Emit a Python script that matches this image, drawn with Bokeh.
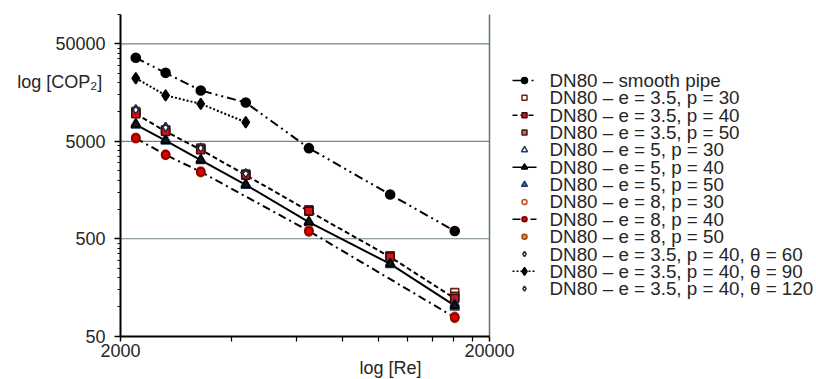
import math
from bokeh.plotting import figure
from bokeh.models import Range1d, FixedTicker, Label, PrintfTickFormatter
from bokeh.embed import file_html
from bokeh.resources import INLINE

# ---------------- data ----------------
re_all = [2200, 2650, 3300, 4370, 6480, 10760, 16100]
re_e8 = [2200, 2650, 3300, 6480, 16100]
re_theta = [2200, 2650, 3300, 4370]

cop_smooth = [36000, 25200, 16600, 12500, 4250, 1420, 600]
cop_e35_p30 = [10100, 6550, 4250, 2300, 990, 335, 140]
cop_e35_p40 = [9600, 6300, 4100, 2250, 960, 325, 122]
cop_e35_p50 = [9850, 6450, 4180, 2280, 975, 330, 128]
cop_e5_p30 = [7600, 5200, 3250, 1820, 750, 282, 108]
cop_e5_p40 = [7430, 5090, 3210, 1790, 740, 276, 103]
cop_e5_p50 = [7300, 5000, 3150, 1760, 730, 270, 99]
cop_e8_p30 = [5500, 3700, 2480, 615, 80]
cop_e8_p40 = [5380, 3630, 2430, 600, 78]
cop_e8_p50 = [5300, 3580, 2380, 585, 76]
cop_th60 = [10800, 7100, 4350, 2380]
cop_th90 = [22200, 14800, 12100, 7850]
cop_th120 = [10500, 6900, 4250, 2330]

labels = [
    "DN80 \u2013 smooth pipe",
    "DN80 \u2013 e = 3.5, p = 30",
    "DN80 \u2013 e = 3.5, p = 40",
    "DN80 \u2013 e = 3.5, p = 50",
    "DN80 \u2013 e = 5, p = 30",
    "DN80 \u2013 e = 5, p = 40",
    "DN80 \u2013 e = 5, p = 50",
    "DN80 \u2013 e = 8, p = 30",
    "DN80 \u2013 e = 8, p = 40",
    "DN80 \u2013 e = 8, p = 50",
    "DN80 \u2013 e = 3.5, p = 40, \u03b8 = 60",
    "DN80 \u2013 e = 3.5, p = 40, \u03b8 = 90",
    "DN80 \u2013 e = 3.5, p = 40, \u03b8 = 120",
]

x_min, x_max = 2000, 20000
y_min, y_max = 50, 100000
x_ticks = [2000, 20000]
x_minor = [4000, 6000, 8000, 10000, 12000, 14000, 16000, 18000]
y_ticks = [50, 500, 5000, 50000]
y_minor = ([50 * k for k in range(2, 10)] + [500 * k for k in range(2, 10)]
           + [5000 * k for k in range(2, 10)] + [100000])
x_title = "log [Re]"
y_title = "log [COP\u2082]"

FONT = "Liberation Sans"
TXT = "#262626"

# ---------------- layout (pixels) ----------------
W, H = 816, 379
PL, PR = 120, 489          # plot area left / right
PT, PB = 14, 335.7         # plot area top / bottom
px_dec_x = (PR - PL) / (math.log10(x_max) - math.log10(x_min))
px_dec_y = (PB - PT) / (math.log10(y_max) - math.log10(y_min))
xr = Range1d(10 ** (math.log10(x_min) - PL / px_dec_x),
             10 ** (math.log10(x_min) + (W - PL) / px_dec_x))
yr = Range1d(10 ** (math.log10(y_max) - (H - PT) / px_dec_y),
             10 ** (math.log10(y_max) + PT / px_dec_y))


def sx2data(px):
    return 10 ** (math.log10(x_min) + (px - PL) / px_dec_x)


def sy2data(py):
    return 10 ** (math.log10(y_max) - (py - PT) / px_dec_y)


p = figure(width=W, height=H, x_axis_type="log", y_axis_type="log",
           x_range=xr, y_range=yr, output_backend="svg", toolbar_location=None,
           min_border=0)
p.outline_line_color = None
p.background_fill_color = "white"
p.border_fill_color = "white"
p.xgrid.visible = False
p.ygrid.visible = False

p.xaxis.fixed_location = y_min
p.yaxis.fixed_location = x_min
p.xaxis.bounds = (x_min, x_max)
p.yaxis.bounds = (y_min, y_max)
p.xaxis.ticker = FixedTicker(ticks=x_ticks, minor_ticks=x_minor)
p.yaxis.ticker = FixedTicker(ticks=y_ticks, minor_ticks=y_minor)
for ax in (p.xaxis, p.yaxis):
    ax.formatter = PrintfTickFormatter(format="%d")
    ax.axis_line_width = 2
    ax.axis_line_color = "black"
    ax.major_tick_line_color = "black"
    ax.minor_tick_line_color = "black"
    ax.major_tick_line_width = 1.5
    ax.minor_tick_line_width = 1.2
    ax.major_tick_in = 0
    ax.minor_tick_in = 0
    ax.major_label_text_font = FONT
    ax.major_label_text_font_size = "18px"
    ax.major_label_text_color = TXT
p.xaxis.major_tick_out = 5
p.xaxis.minor_tick_out = 5
p.xaxis.major_label_standoff = 3
p.yaxis.major_tick_out = 6
p.yaxis.minor_tick_out = 3
p.yaxis.major_label_standoff = 9

# horizontal grid lines at the major ticks (above the bottom) and right border
gy = y_ticks[1:]
p.segment(x0=[x_min] * len(gy), y0=gy, x1=[x_max] * len(gy), y1=gy,
          line_color="#71858a", line_width=1.2)
p.segment(x0=[x_max], y0=[y_min], x1=[x_max], y1=[y_max],
          line_color="#5f7378", line_width=1.5)

# ---------------- series styles ----------------
DASH_SMOOTH = "9 4 2 4 2 4"
DASH_E35 = "5 3"
DASH_E8 = "8 4 2 4"
DASH_TH = "2 2"

# (x, y, marker, size, fill, edge, line_dash or None)  -- one per legend row
series = [
    (re_all, cop_smooth, "circle", 9, "black", "black", DASH_SMOOTH),
    (re_all, cop_e35_p30, "square", 8, "white", "#6b2418", None),
    (re_all, cop_e35_p40, "square", 8, "#e01010", "#3a0c0c", DASH_E35),
    (re_all, cop_e35_p50, "square", 8, "#c0705a", "#4a1a12", None),
    (re_all, cop_e5_p30, "triangle", 9, "white", "#1f3a66", None),
    (re_all, cop_e5_p40, "triangle", 9, "#101820", "black", "solid"),
    (re_all, cop_e5_p50, "triangle", 9, "#3d6cb0", "#1f3a66", None),
    (re_e8, cop_e8_p30, "circle", 8, "white", "#c0501a", None),
    (re_e8, cop_e8_p40, "circle", 8, "#e00000", "#7a0000", DASH_E8),
    (re_e8, cop_e8_p50, "circle", 8, "#e0904a", "#a04010", None),
    (re_theta, cop_th60, "diamond", 8, "white", "#1f2a44", None),
    (re_theta, cop_th90, "diamond", 11, "black", "black", DASH_TH),
    (re_theta, cop_th120, "diamond", 8, "white", "#1f2a44", None),
]
draw_order = [0, 11, 1, 3, 2, 4, 6, 5, 7, 9, 8, 10, 12]

for xs, ys, mk, sz, fc, lc, dash in series:
    if dash is not None:
        p.line(xs, ys, line_color="black", line_width=2, line_dash=dash)
for i in draw_order:
    xs, ys, mk, sz, fc, lc, dash = series[i]
    p.scatter(xs, ys, marker=mk, size=sz, fill_color=fc, line_color=lc, line_width=1.6)

# ---------------- legend (drawn beside the plot) ----------------
LEG_Y0, LEG_DY = 80, 17.35
LEG_X0, LEG_X1, LEG_TX = 512, 536, 549
for i, (lab, s) in enumerate(zip(labels, series)):
    xs, ys, mk, sz, fc, lc, dash = s
    yy = sy2data(LEG_Y0 + i * LEG_DY)
    if dash is not None:
        p.line([sx2data(LEG_X0), sx2data(LEG_X1)], [yy, yy], line_color="black",
               line_width=1.5, line_dash=dash)
    p.scatter([sx2data((LEG_X0 + LEG_X1) / 2)], [yy], marker=mk, size=max(sz - 3, 5),
              fill_color=fc, line_color=lc, line_width=1.5)
    p.add_layout(Label(x=sx2data(LEG_TX), y=yy, text=lab, text_font=FONT,
                       text_font_size="18.8px", text_color=TXT,
                       text_align="left", text_baseline="middle"))

p.add_layout(Label(x=sx2data(359), y=sy2data(367), text=x_title, text_font=FONT,
                   text_font_size="18px", text_color=TXT,
                   text_align="left", text_baseline="middle"))
p.add_layout(Label(x=sx2data(101.7), y=sy2data(81), text=y_title, text_font=FONT,
                   text_font_size="18px", text_color=TXT,
                   text_align="right", text_baseline="middle"))

open("out.html", "w").write(file_html(p, INLINE))
